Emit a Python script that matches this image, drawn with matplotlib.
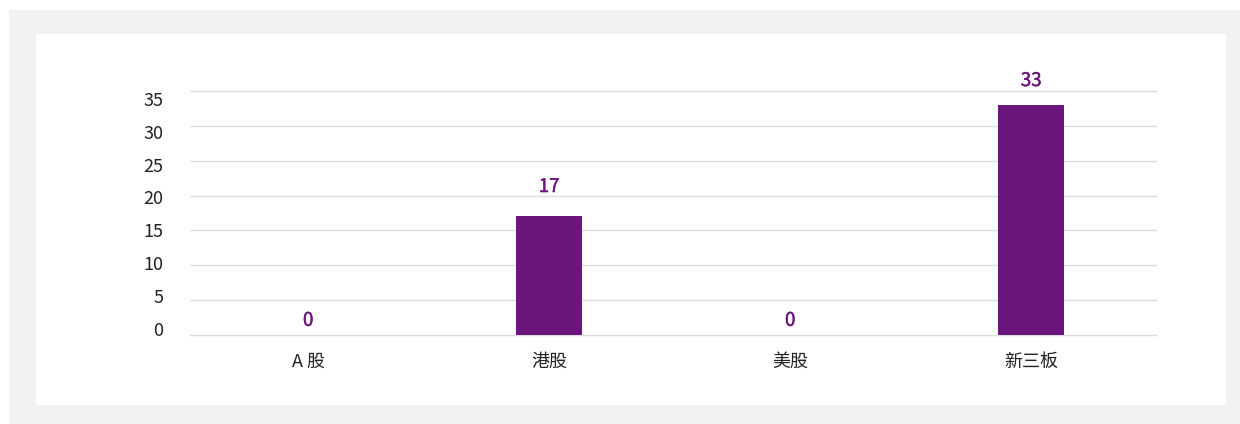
import matplotlib.pyplot as plt
import matplotlib.patheffects as pe
from matplotlib.patches import Rectangle

plt.rcParams['font.family'] = ['Noto Sans CJK SC', 'DejaVu Sans']

categories = ['A 股', '港股', '美股', '新三板']
values = [0, 17, 0, 33]
yticks = [0, 5, 10, 15, 20, 25, 30, 35]

purple = '#6b167c'
label_offsets = [3, 14, 3, 10]  # points above each bar

W, H = 1240, 424
fig = plt.figure(figsize=(W / 100, H / 100), dpi=100)
fig.patch.set_facecolor('white')

# background panels
fig.patches.append(Rectangle((9 / W, 0), (W - 9) / W, (H - 10) / H, transform=fig.transFigure,
                             facecolor='#f2f2f2', edgecolor='none', zorder=-2))
fig.patches.append(Rectangle((36 / W, (H - 405) / H), (1226 - 36) / W, (405 - 34) / H,
                             transform=fig.transFigure, facecolor='white', edgecolor='none', zorder=-1))

rect = [190 / W, (H - 335) / H, (1156 - 190) / W, (335 - 91) / H]
ax = fig.add_axes(rect)
ax.set_zorder(5)
ax.set_facecolor('none')
x = list(range(len(categories)))
ax.bar(x, values, width=0.275, color=purple, zorder=3)
for xi, v, off in zip(x, values, label_offsets):
    ax.annotate(str(v), (xi, v), textcoords='offset points', xytext=(0, off),
                ha='center', va='bottom', color=purple, fontsize=13.5,
                path_effects=[pe.withStroke(linewidth=0.3, foreground=purple)])

ax.set_xlim(-0.49, 3.518)
ax.set_ylim(0, 35)
ax.set_yticks(yticks)
ax.set_xticks(x)
ax.set_xticklabels(categories)
ax.grid(axis='y', color='#dcdcdc', linewidth=1, zorder=0)
for line in ax.get_ygridlines():
    line.set_clip_on(False)
for s in ax.spines.values():
    s.set_visible(False)
ax.tick_params(axis='both', length=0, labelcolor='#222222')
ax.tick_params(axis='y', labelleft=False)
ax.tick_params(axis='x', pad=13, labelsize=13)

# y labels sit on a slightly compressed scale, as in the original
lab = fig.add_axes(rect)
lab.set_zorder(4)
lab.set_facecolor('none')
lab.set_ylim(-0.91, 36.17)
lab.set_yticks(yticks)
lab.set_xticks([])
for s in lab.spines.values():
    s.set_visible(False)
lab.tick_params(axis='y', length=0, pad=19, labelsize=13, labelcolor='#222222')

fig.savefig('out.png', dpi=100)
